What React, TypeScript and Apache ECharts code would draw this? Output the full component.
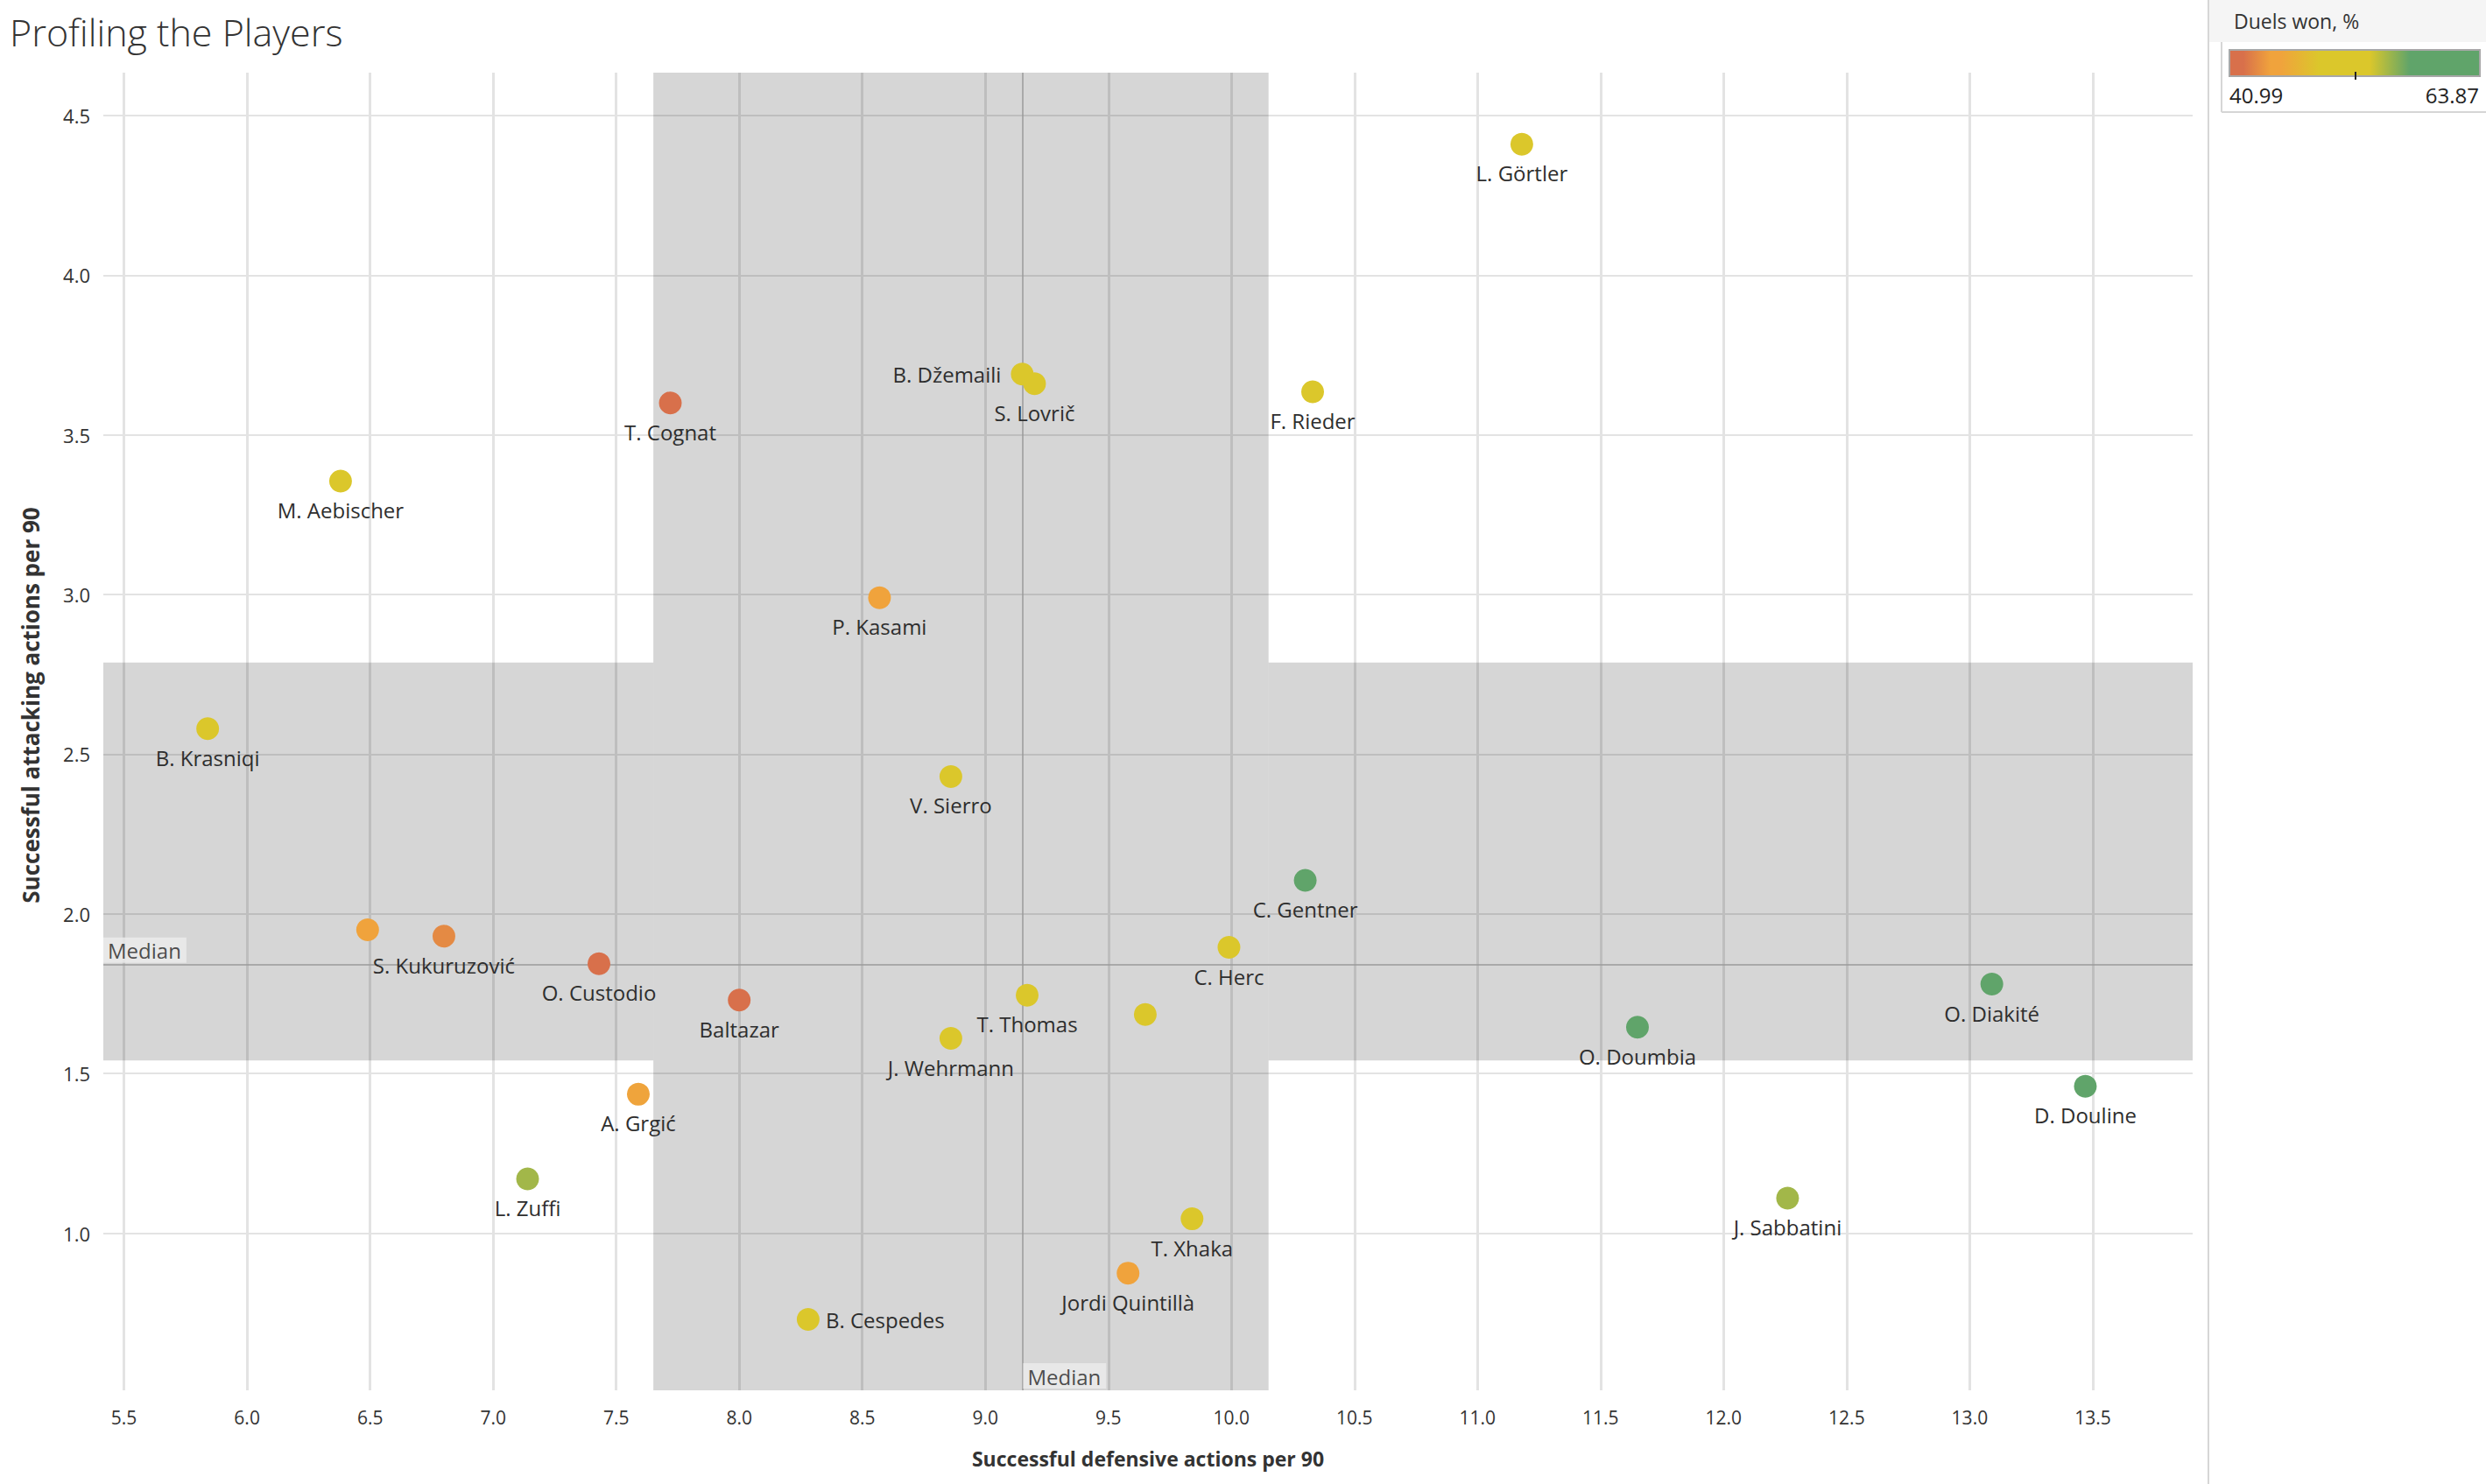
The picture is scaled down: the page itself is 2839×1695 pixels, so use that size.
import React, { useEffect, useRef } from "react";
import * as echarts from "echarts";

// ---------- data ----------
const players = [
  "L. Görtler", "B. Džemaili", "S. Lovrič", "F. Rieder", "T. Cognat", "M. Aebischer",
  "P. Kasami", "B. Krasniqi", "V. Sierro", "C. Gentner", "C. Herc", "",
  "S. Kukuruzović", "O. Custodio", "Baltazar", "T. Thomas", "", "J. Wehrmann",
  "O. Doumbia", "O. Diakité", "D. Douline", "A. Grgić", "L. Zuffi", "J. Sabbatini",
  "T. Xhaka", "Jordi Quintillà", "B. Cespedes",
];
const defensiveActions = [
  11.18, 9.15, 9.2, 10.33, 7.72, 6.38,
  8.57, 5.84, 8.86, 10.3, 9.99, 6.49,
  6.8, 7.43, 8.0, 9.17, 9.65, 8.86,
  11.65, 13.09, 13.47, 7.59, 7.14, 12.26,
  9.84, 9.58, 8.28,
];
const attackingActions = [
  4.41, 3.69, 3.66, 3.635, 3.6, 3.355,
  2.99, 2.58, 2.43, 2.105, 1.895, 1.95,
  1.93, 1.844, 1.73, 1.745, 1.685, 1.61,
  1.645, 1.78, 1.46, 1.435, 1.17, 1.11,
  1.045, 0.875, 0.73,
];
const duelsWon = [
  51.5, 51, 51, 51.5, 40.99, 50.5,
  45.5, 51, 51, 60.5, 51, 45,
  43.5, 41.8, 42, 51.5, 52, 51,
  60, 61, 63.87, 45.8, 55.5, 55.5,
  51, 45.3, 51,
];
const labelPositions = [
  "bottom", "left", "bottom", "bottom", "bottom", "bottom",
  "bottom", "bottom", "bottom", "bottom", "bottom", "none",
  "bottom", "bottom", "bottom", "bottom", "none", "bottom",
  "bottom", "bottom", "bottom", "bottom", "bottom", "bottom",
  "bottom", "bottom", "right",
];
// interquartile bands
const xBand = [7.651, 10.151];
const yBand = [1.541, 2.787];
// axis extents
const xExtent = [5.416, 13.906];
const yExtent = [0.508, 4.634];
const tickStep = 0.5;

// colour palette (Duels won, %)
const paletteStops: [number, string][] = [
  [0, "#d8704b"],
  [0.055, "#d8704b"],
  [0.165, "#f0a33c"],
  [0.206, "#f0a33c"],
  [0.36, "#dbc72b"],
  [0.56, "#dbc72b"],
  [0.72, "#60a46a"],
  [1, "#60a46a"],
];

function hexToRgb(h: string) {
  const n = parseInt(h.slice(1), 16);
  return [(n >> 16) & 255, (n >> 8) & 255, n & 255];
}
function sample(t: number) {
  for (let i = 0; i < paletteStops.length - 1; i++) {
    const [t0, c0] = paletteStops[i];
    const [t1, c1] = paletteStops[i + 1];
    if (t >= t0 && t <= t1) {
      const f = t1 === t0 ? 0 : (t - t0) / (t1 - t0);
      const a = hexToRgb(c0), b = hexToRgb(c1);
      const c = a.map((v, k) => Math.round(v + (b[k] - v) * f));
      return `rgb(${c[0]},${c[1]},${c[2]})`;
    }
  }
  return paletteStops[paletteStops.length - 1][1];
}

function median(arr: number[]) {
  const s = [...arr].sort((a, b) => a - b);
  const m = Math.floor(s.length / 2);
  return s.length % 2 ? s[m] : (s[m - 1] + s[m]) / 2;
}

const FONT = "'Open Sans', 'Noto Sans', sans-serif";

export default function App() {
  const ref = useRef<HTMLDivElement>(null);
  useEffect(() => {
    if (!ref.current) return;
    const chart = echarts.init(ref.current, undefined, { renderer: "svg" });
    const dMin = Math.min(...duelsWon);
    const dMax = Math.max(...duelsWon);
    const xMed = median(defensiveActions);
    const yMed = median(attackingActions);
    const colors = Array.from({ length: 101 }, (_, i) => sample(i / 100));

    const points = players.map((name, i) => ({
      name,
      value: [defensiveActions[i], attackingActions[i], duelsWon[i]],
      label: {
        show: labelPositions[i] !== "none",
        position: labelPositions[i] === "none" ? "bottom" : labelPositions[i],
        distance: labelPositions[i] === "left" ? 11 : labelPositions[i] === "right" ? 7 : 8,
      },
    }));

    const [xMin, xMax] = xExtent;
    const [yMin, yMax] = yExtent;

    const LX = 2522;
    const option: any = {
      animation: false,
      backgroundColor: "#ffffff",
      title: {
        text: "Profiling the Players",
        left: 6,
        top: 10,
        textStyle: { fontSize: 43, fontWeight: 300, color: "#333", fontFamily: FONT },
      },
      grid: { left: 118, top: 83, width: 2386, height: 1505, containLabel: false },
      xAxis: {
        type: "value",
        min: xMin,
        max: xMax,
        minInterval: tickStep,
        maxInterval: tickStep,
        splitNumber: 17,
        name: "Successful defensive actions per 90",
        nameLocation: "middle",
        nameGap: 66,
        nameTextStyle: { fontSize: 23, fontWeight: "bold", color: "#333", fontFamily: FONT },
        axisLine: { show: false },
        axisTick: { show: false },
        axisLabel: {
          showMinLabel: false,
          showMaxLabel: false,
          margin: 20,
          fontSize: 21,
          color: "#333",
          fontFamily: FONT,
          formatter: (v: number) => v.toFixed(1),
        },
        splitLine: { show: true, showMinLine: false, showMaxLine: false, lineStyle: { color: "#e3e3e3", width: 3 } },
      },
      yAxis: {
        type: "value",
        min: yMin,
        max: yMax,
        minInterval: tickStep,
        maxInterval: tickStep,
        splitNumber: 8,
        name: "Successful attacking actions per 90",
        nameLocation: "middle",
        nameRotate: 90,
        nameGap: 70,
        nameTextStyle: { fontSize: 26, fontWeight: "bold", color: "#333", fontFamily: FONT, padding: [0, 0, 0, 60] },
        axisLine: { show: false },
        axisTick: { show: false },
        axisLabel: {
          showMinLabel: false,
          showMaxLabel: false,
          margin: 15,
          fontSize: 22,
          color: "#333",
          fontFamily: FONT,
          formatter: (v: number) => v.toFixed(1),
        },
        splitLine: { show: true, showMinLine: false, showMaxLine: false, lineStyle: { color: "#e3e3e3", width: 2 } },
      },
      visualMap: {
        show: false,
        type: "continuous",
        min: dMin,
        max: dMax,
        dimension: 2,
        seriesIndex: 0,
        inRange: { color: colors },
      },
      series: [
        {
          type: "scatter",
          z: 10,
          symbolSize: 26,
          data: points,
          itemStyle: { opacity: 1 },
          label: {
            show: true,
            formatter: (p: any) => p.name,
            fontSize: 24,
            color: "#2e2e2e",
            fontFamily: FONT,
          },
          emphasis: { disabled: true },
        },
        {
          type: "scatter",
          z: 1,
          data: [],
          silent: true,
          markArea: {
            silent: true,
            z: 1,
            itemStyle: { color: "rgba(0,0,0,0.16)" },
            data: [
              [{ xAxis: xBand[0], yAxis: yMin }, { xAxis: xBand[1], yAxis: yMax }],
              [{ xAxis: xMin, yAxis: yBand[0] }, { xAxis: xBand[0], yAxis: yBand[1] }],
              [{ xAxis: xBand[1], yAxis: yBand[0] }, { xAxis: xMax, yAxis: yBand[1] }],
            ],
          },
          markLine: {
            silent: true,
            z: 2,
            symbol: "none",
            label: { show: false },
            lineStyle: { color: "#9a9a9a", width: 1.5, type: "solid" },
            data: [{ xAxis: xMed }, { yAxis: yMed }],
          },
        },
        {
          type: "scatter",
          z: 11,
          symbolSize: 0,
          silent: true,
          data: [
            { value: [xMed, yMin], label: { position: [1, -2], align: "left", verticalAlign: "bottom" } },
            { value: [xMin, yMed], label: { position: [0, -1], align: "left", verticalAlign: "bottom" } },
          ],
          label: {
            show: true,
            formatter: "Median",
            fontSize: 24,
            color: "#222",
            fontFamily: FONT,
            backgroundColor: "#ececec",
            padding: [3, 6, 2, 5],
          },
        },
      ],
      graphic: [
        { type: "line", shape: { x1: LX, y1: 0, x2: LX, y2: 1695 }, style: { stroke: "#d6d6d6", lineWidth: 2 } },
        { type: "rect", shape: { x: LX + 1, y: 0, width: 2839 - LX, height: 48 }, style: { fill: "#f5f5f5" } },
        {
          type: "text",
          style: { text: "Duels won, %", x: 2551, y: 24, fontSize: 23, fontFamily: FONT, fill: "#333", verticalAlign: "middle" },
        },
        { type: "line", shape: { x1: 2537, y1: 48, x2: 2537, y2: 128 }, style: { stroke: "#d6d6d6", lineWidth: 2 } },
        { type: "line", shape: { x1: 2537, y1: 128, x2: 2839, y2: 128 }, style: { stroke: "#d6d6d6", lineWidth: 2 } },
        {
          type: "rect",
          shape: { x: 2546, y: 57, width: 286, height: 30 },
          style: {
            fill: new echarts.graphic.LinearGradient(0, 0, 1, 0, paletteStops.map(([offset, color]) => ({ offset, color }))),
            stroke: "#a8a8a8",
            lineWidth: 2,
          },
        },
        { type: "line", shape: { x1: 2690, y1: 82, x2: 2690, y2: 91 }, style: { stroke: "#222", lineWidth: 2 } },
        {
          type: "text",
          style: { text: dMin.toFixed(2), x: 2546, y: 108, fontSize: 24, fontFamily: FONT, fill: "#222", verticalAlign: "middle", align: "left" },
        },
        {
          type: "text",
          style: { text: dMax.toFixed(2), x: 2831, y: 108, fontSize: 24, fontFamily: FONT, fill: "#222", verticalAlign: "middle", align: "right" },
        },
      ],
    };
    chart.setOption(option);
    return () => chart.dispose();
  }, []);
  return (
    <div
      ref={ref}
      style={{ position: "absolute", left: 0, top: 0, width: 2839, height: 1695, background: "#fff" }}
    />
  );
}
